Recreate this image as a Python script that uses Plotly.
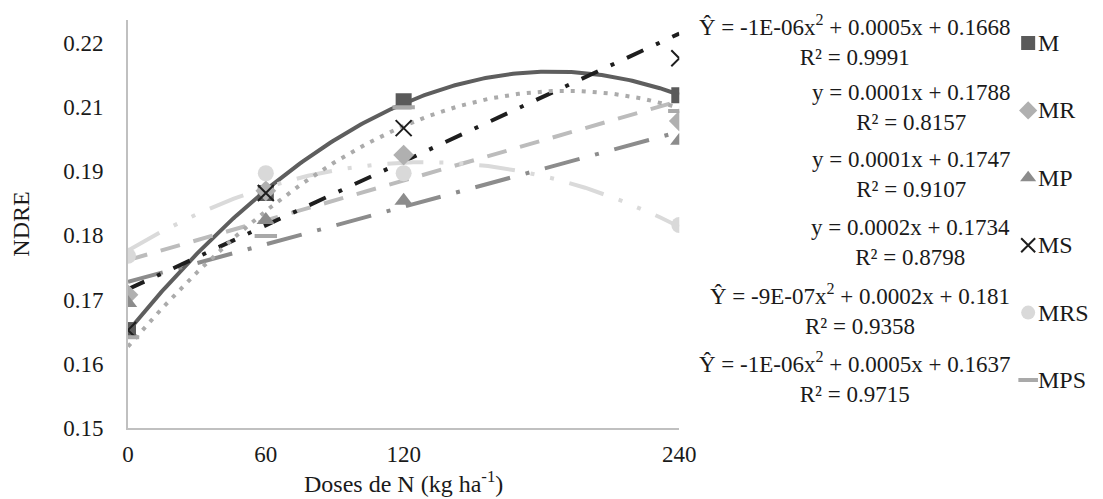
import numpy as np
import plotly.graph_objects as go

# Doses de N (kg/ha) and NDRE readings per treatment
doses = [0, 60, 120, 240]
m_vals = [0.1678, 0.1927, 0.2094, 0.2105]
mr_vals = [0.1742, 0.1931, 0.1996, 0.2058]
mp_vals = [0.1727, 0.1878, 0.1913, 0.2022]
ms_vals = [0.1678, 0.1927, 0.2045, 0.2172]
mrs_vals = [0.1813, 0.1963, 0.1963, 0.1869]
mps_vals = [0.1665, 0.1849, 0.2083, 0.2076]

# trendline degree per series (as in the equations)
trend_deg = {"M": 2, "MR": 1, "MP": 1, "MS": 1, "MRS": 2, "MPS": 2}

equations = [
    "Ŷ = -1E-06x<sup>2</sup> + 0.0005x + 0.1668<br>R² = 0.9991",
    "y = 0.0001x + 0.1788<br>R² = 0.8157",
    "y = 0.0001x + 0.1747<br>R² = 0.9107",
    "y = 0.0002x + 0.1734<br>R² = 0.8798",
    "Ŷ = -9E-07x<sup>2</sup> + 0.0002x + 0.181<br>R² = 0.9358",
    "Ŷ = -1E-06x<sup>2</sup> + 0.0005x + 0.1637<br>R² = 0.9715",
]

# y axis: 7 evenly spaced ticks, labels as printed in the original
ytick_labels = ["0.15", "0.16", "0.17", "0.18", "0.19", "0.21", "0.22"]
xtick_labels = ["0", "60", "120", "240"]

FONT = "Liberation Serif, Times New Roman, serif"

series = [
    # name, values, marker symbol, marker color, line color, dash
    ("M", m_vals, "square", "#5A5A5A", "#5E5E5E", "solid"),
    ("MR", mr_vals, "diamond", "#B0B0B0", "#BCBCBC", "20px,14px"),
    ("MP", mp_vals, "triangle-up", "#8C8C8C", "#8C8C8C", "36px,16px,4px,16px"),
    ("MS", ms_vals, "x-thin", "#1E1E1E", "#1E1E1E", "18px,14px,4px,14px"),
    ("MRS", mrs_vals, "circle", "#D9D9D9", "#DADADA", "36px,16px,4px,16px,4px,16px"),
    ("MPS", mps_vals, "line-ew", "#A9A9A9", "#ABABAB", "4px,7px"),
]

W, H = 1103, 499
L, T, B = 120, 12, 79
PLOT_R = 681            # right end of the chart's x axis, in pixels
PW = W - L              # width of the paper area (no right margin)
PH = H - T - B

def marker_style(sym, col, size):
    if sym in ("x-thin", "line-ew"):
        return dict(symbol=sym, size=size, color=col,
                    line=dict(color=col, width=2 if sym == "x-thin" else 4))
    return dict(symbol=sym, size=size, color=col, line=dict(width=0))

fig = go.Figure()

xs = np.linspace(0, 240, 200)
for name, vals, sym, mcol, lcol, dash in series:
    coef = np.polyfit(doses, vals, trend_deg[name])
    fig.add_trace(go.Scatter(
        x=xs, y=np.polyval(coef, xs), mode="lines",
        line=dict(color=lcol, width=4, dash=dash),
        showlegend=False, hoverinfo="skip"
    ))

for name, vals, sym, mcol, lcol, dash in series:
    fig.add_trace(go.Scatter(
        x=doses, y=vals, mode="markers", name=name,
        marker=marker_style(sym, mcol, 16), showlegend=False
    ))

# hand-made legend on a hidden pixel-scaled axis, to fit the equations between entries
LEG_X0 = 1000
for i, (name, vals, sym, mcol, lcol, dash) in enumerate(series):
    ly = 35 + i * 67.4
    fig.add_trace(go.Scatter(
        x=[1036], y=[ly], mode="markers", xaxis="x2", yaxis="y2",
        marker=marker_style(sym, mcol, 14), showlegend=False, hoverinfo="skip"
    ))
    fig.add_annotation(
        xref="x2", yref="y2", x=1044, y=ly, xanchor="left", yanchor="middle",
        text=name, showarrow=False,
        font=dict(family=FONT, size=24, color="#1a1a1a")
    )

ymin, ystep = 0.15, 0.07 / 6
ytick_vals = [ymin + i * ystep for i in range(len(ytick_labels))]

# equation blocks beside the legend
for i, txt in enumerate(equations):
    py = 32 + i * 67.4
    fig.add_annotation(
        xref="paper", yref="paper",
        x=(1020 - L) / PW, y=(H - B - py) / PH,
        xanchor="right", yanchor="middle", align="center",
        text=txt, showarrow=False,
        font=dict(family=FONT, size=23, color="#1a1a1a")
    )

fig.update_layout(
    width=W, height=H,
    margin=dict(l=L, r=0, t=T, b=B),
    paper_bgcolor="white", plot_bgcolor="white",
    font=dict(family=FONT, size=23, color="#1a1a1a"),
    showlegend=False,
    xaxis=dict(
        domain=[0, (PLOT_R - L) / PW],
        range=[0, 240], tickvals=doses, ticktext=xtick_labels,
        showgrid=False, zeroline=False, showline=True,
        linecolor="#C0C0C0", linewidth=2, ticks="",
        ticklabelstandoff=4,
        title=dict(text="Doses de N (kg ha<sup>-1</sup>)", font=dict(size=24), standoff=2)
    ),
    yaxis=dict(
        range=[0.15, 0.15 + PH / 5502], tickvals=ytick_vals, ticktext=ytick_labels,
        showgrid=False, zeroline=False, showline=True,
        linecolor="#C0C0C0", linewidth=2, ticks="",
        ticklabelstandoff=18,
        title=dict(text="NDRE", font=dict(size=24), standoff=30)
    ),
    xaxis2=dict(
        domain=[(LEG_X0 - L) / PW, 1], range=[LEG_X0, W], anchor="y2",
        visible=False, fixedrange=True
    ),
    yaxis2=dict(
        domain=[0, 1], range=[H - B, T], anchor="x2",
        visible=False, fixedrange=True
    ),
)

fig.write_html("out.html")
